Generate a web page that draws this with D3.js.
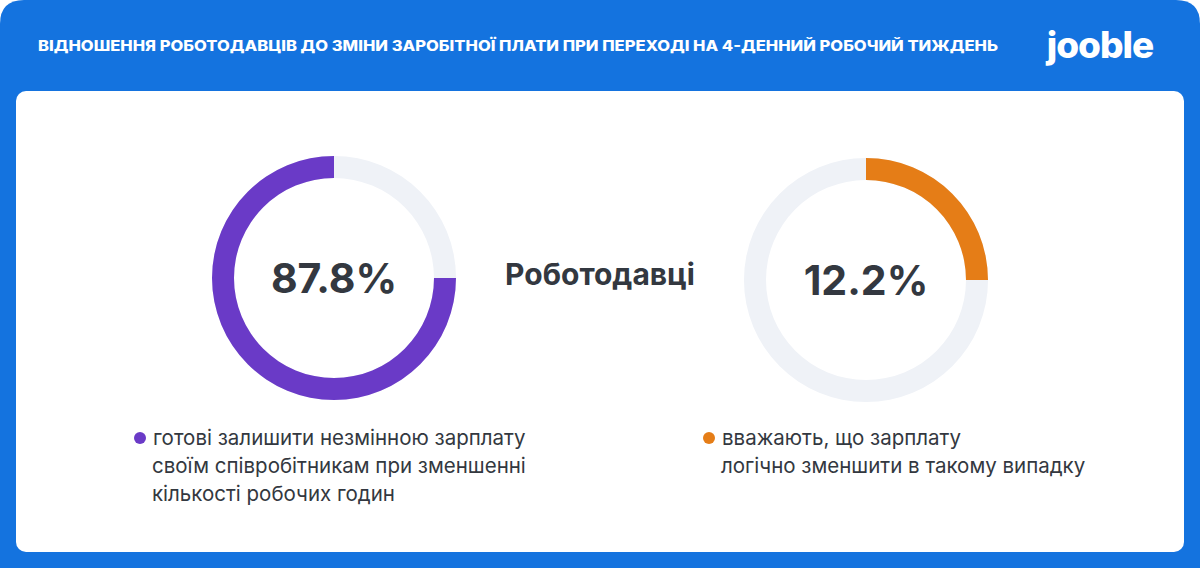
<!DOCTYPE html>
<html><head><meta charset="utf-8">
<script src="https://cdn.jsdelivr.net/npm/d3@7"></script>
<style>body{margin:0;background:#fff}svg{display:block}</style>
</head><body><svg id="chart" width="1200" height="568"></svg>
<script>
// data
const labels = ["87.8%", "12.2%"];
const values = [87.8, 12.2];
const arcShares = [0.75, 0.25];   // drawn arc length as it appears in the picture
const colors = ["#6a3ac7", "#e57d17"];
const legends = [
    ["готові залишити незмінною зарплату", "своїм співробітникам при зменшенні", "кількості робочих годин"],
    ["вважають, що зарплату", "логічно зменшити в такому випадку"]
];
const title = "ВІДНОШЕННЯ РОБОТОДАВЦІВ ДО ЗМІНИ ЗАРОБІТНОЇ ПЛАТИ ПРИ ПЕРЕХОДІ НА 4-ДЕННИЙ РОБОЧИЙ ТИЖДЕНЬ";

const svg = d3.select("#chart");
const font = "Inter, 'Noto Sans', sans-serif";

svg.append("path")
    .attr("d", "M0,568 V24 Q0,0 24,0 H1176 Q1200,0 1200,24 V568 Z")
    .attr("fill", "#1473df");
svg.append("rect").attr("x", 16).attr("y", 91).attr("width", 1168).attr("height", 461)
    .attr("rx", 10).attr("fill", "#fff");

svg.append("text").attr("x", 38).attr("y", 51).attr("fill", "#fff")
    .attr("textLength", 960).attr("lengthAdjust", "spacingAndGlyphs")
    .style("font", `800 14px ${font}`).text(title);
svg.append("text").attr("x", 1100).attr("y", 58).attr("text-anchor", "middle").attr("fill", "#fff")
    .style("font", `800 37px ${font}`).style("letter-spacing", "-1px").text("jooble");

const centers = [[334, 278], [866, 280]];
const arc = d3.arc().innerRadius(100).outerRadius(122);
const angle = d3.scaleLinear().domain([0, 1]).range([0, 2 * Math.PI]);

values.forEach((v, i) => {
    const g = svg.append("g").attr("transform", `translate(${centers[i]})`);
    g.append("path").attr("fill", "#eff2f7")
        .attr("d", arc({startAngle: 0, endAngle: 2 * Math.PI}));
    const s = i === 0 ? -angle(arcShares[i]) : 0;
    const e = i === 0 ? 0 : angle(arcShares[i]);
    g.append("path").attr("fill", colors[i]).attr("d", arc({startAngle: s, endAngle: e}));
    g.append("text").attr("y", 15).attr("text-anchor", "middle").attr("fill", "#333840")
        .style("font", `700 41px ${font}`).text(labels[i]);
});

svg.append("text").attr("x", 600).attr("y", 285).attr("text-anchor", "middle").attr("fill", "#333840")
    .style("font", `700 30px ${font}`).text("Роботодавці");

const legendPos = [[138, 445], [707, 445]];
legends.forEach((lines, i) => {
    const [x, y] = legendPos[i];
    svg.append("circle").attr("cx", x + 2).attr("cy", y - 7).attr("r", 6).attr("fill", colors[i]);
    lines.forEach((t, j) => {
        svg.append("text").attr("x", j === 0 ? x + 15 : x + 14).attr("y", y + j * 28)
            .attr("fill", "#333840").style("font", `400 20.5px ${font}`).text(t);
    });
});
</script></body></html>
